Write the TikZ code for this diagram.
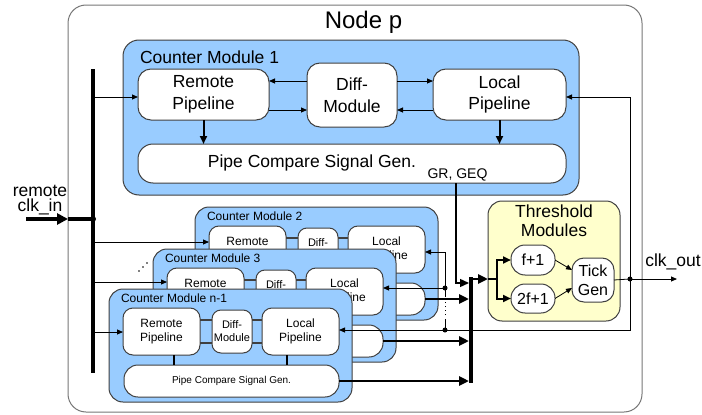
\documentclass[tikz,border=0pt]{standalone}
\usepackage{fontspec}
\setmainfont{Liberation Sans}
\usetikzlibrary{arrows.meta}
\definecolor{cmblue}{HTML}{99CCFF}
\definecolor{thyellow}{HTML}{FFFFCC}
\definecolor{edgec}{HTML}{404040}
\definecolor{outerc}{HTML}{777777}
\tikzset{
  every node/.style={inner sep=0pt, outer sep=0pt},
  outerbox/.style={draw=outerc, line width=1pt, fill=white, rounded corners=18pt},
  modbox/.style={draw=edgec, line width=1pt, fill=cmblue, rounded corners=14pt},
  pbox/.style={draw=edgec, line width=1pt, fill=white, rounded corners=13pt, align=center, font=\fontsize{17.5}{21.5}\selectfont},
  spbox/.style={draw=edgec, line width=1pt, fill=white, rounded corners=10pt, align=center, font=\fontsize{12}{14}\selectfont},
  thbox/.style={draw=edgec, line width=1pt, fill=thyellow, rounded corners=14pt},
  tbox/.style={draw=edgec, line width=1pt, fill=white, align=center, font=\fontsize{16}{19}\selectfont},
  bigtext/.style={font=\fontsize{17.5}{21}\selectfont, align=center},
  tarrow/.style={line width=0.8pt, -{Triangle[length=6pt,width=5pt]}},
  tline/.style={line width=0.8pt},
  marrow/.style={line width=1.4pt, -{Triangle[length=9pt,width=8pt]}},
  karrow/.style={line width=2.5pt, -{Triangle[length=10pt,width=9pt]}},
  karrowb/.style={line width=2pt, -{Triangle[length=8pt,width=7pt]}},
  kline/.style={line width=2.5pt},
  busline/.style={line width=4pt},
  sbar/.style={line width=1.2pt, draw=edgec},
  vbar/.style={line width=2pt},
  jdot/.style={circle, fill=black, minimum size=5pt},
  smallcm/.pic={
    \node[modbox, minimum width=243pt, minimum height=113pt] (-box) at (121.5,56.5) {};
    \node[font=\fontsize{12}{14}\selectfont, anchor=west] (-title) at (12,9.5) {#1};
    \node[spbox, minimum width=77pt, minimum height=47pt] (-remote) at (52.5,42.5) {Remote\\Pipeline};
    \node[spbox, rounded corners=9pt, minimum width=40pt, minimum height=43pt, font=\fontsize{11}{13}\selectfont] (-diff) at (123,42.5) {Diff-\\Module};
    \node[spbox, minimum width=77pt, minimum height=47pt] (-local) at (191.5,42.5) {Local\\Pipeline};
    \node[spbox, rounded corners=14pt, minimum width=215pt, minimum height=32pt, font=\fontsize{10}{12}\selectfont] (-pcs) at (122.5,92) {Pipe Compare Signal Gen.};
    \draw[sbar] (-remote.east |- 0,31) -- (-diff.west |- 0,31);
    \draw[sbar] (-remote.east |- 0,54) -- (-diff.west |- 0,54);
    \draw[sbar] (-diff.east |- 0,31) -- (-local.west |- 0,31);
    \draw[sbar] (-diff.east |- 0,54) -- (-local.west |- 0,54);
    \draw[vbar] (-remote.south -| 65,0) -- (-pcs.north -| 65,0);
    \draw[vbar] (-local.south -| 178,0) -- (-pcs.north -| 178,0);
  },
}
\begin{document}
\begin{tikzpicture}[x=1pt,y=-1pt]
\useasboundingbox (0,0) rectangle (702,415);
% outer node
\node[outerbox, minimum width=574pt, minimum height=407pt] (nodep) at (355,208.5) {};
\node[font=\fontsize{24}{28}\selectfont] (nodeptitle) at (363.5,22) {Node p};

% Counter module 1
\node[modbox, rounded corners=16pt, minimum width=456pt, minimum height=155pt] (cm1) at (351,117.5) {};
\node[bigtext, anchor=west] (cm1title) at (140,57) {Counter Module 1};
\node[pbox, minimum width=131pt, minimum height=51pt] (remote1) at (203.5,94.5) {Remote\\Pipeline};
\node[pbox, minimum width=90pt, minimum height=64pt] (diff1) at (352,95) {Diff-\\Module};
\node[pbox, minimum width=133pt, minimum height=51pt] (local1) at (499.5,94.5) {Local\\Pipeline};
\node[pbox, rounded corners=15pt, minimum width=428pt, minimum height=39pt] (pcs1) at (352,163.5) {};
\node[bigtext] (pcs1text) at (312,163) {Pipe Compare Signal Gen.};
\node[font=\fontsize{14}{16}\selectfont] (grgeq) at (457.5,175) {GR, GEQ};

\draw[tarrow] (diff1.west |- 0,81) -- (remote1.east |- 0,81);
\draw[tarrow] (remote1.east |- 0,110) -- (diff1.west |- 0,110);
\draw[tarrow] (diff1.east |- 0,81) -- (local1.west |- 0,81);
\draw[tarrow] (local1.west |- 0,110) -- (diff1.east |- 0,110);
\draw[karrowb] (remote1.south) -- (remote1.south |- pcs1.north);
\draw[karrowb] (local1.south) -- (local1.south |- pcs1.north);

% stacked counter modules
\pic (cm2) at (195,207) {smallcm=Counter Module 2};
\pic (cm3) at (153,249) {smallcm=Counter Module 3};
\pic (cmn) at (109,289) {smallcm=Counter Module n-1};

% threshold modules
\node[thbox, minimum width=132pt, minimum height=120pt] (thresh) at (554,261) {};
\node[font=\fontsize{17.5}{19}\selectfont, align=center] (threshtitle) at (554,221) {Threshold\\Modules};
\node[tbox, rounded corners=14pt, minimum width=44pt, minimum height=30pt] (fone) at (533,260) {f+1};
\node[tbox, rounded corners=14pt, minimum width=44pt, minimum height=29pt] (ftwo) at (533,298.5) {2f+1};
\node[tbox, rounded corners=12pt, minimum width=42pt, minimum height=44pt] (tick) at (593,280) {Tick\\Gen};

% left bus
\coordinate (lbtop) at (93,69);
\coordinate (lbbot) at (93,373);
\coordinate (clkin) at (26,219);
\coordinate (lbjoin) at (93,219);
\draw[busline] (lbtop) -- (lbbot);
\draw[line width=4pt, -{Triangle[length=11pt,width=11pt]}] (clkin) -- (nodep.west |- clkin);
\draw[busline] (nodep.west |- clkin) -- (lbjoin);
\node[jdot, minimum size=6pt] (lbdot) at (lbjoin) {};
\node[font=\fontsize{17.5}{15}\selectfont, align=center] (clkinlabel) at (40,200) {remote\\clk\_in};

\draw[tarrow] (lbtop |- 0,97) -- (remote1.west |- 0,97);
\draw[tarrow] (lbtop |- 0,242) -- (cm2-remote.west |- 0,242);
\draw[tarrow] (lbtop |- 0,282) -- (cm3-remote.west |- 0,282);
\draw[tarrow] (lbtop |- 0,332) -- (cmn-remote.west |- 0,332);

% continuation dots
\fill (139,271) circle (0.9pt) (143,267) circle (0.9pt) (147,263) circle (0.9pt);

% right bus
\coordinate (rbtop) at (471,277);
\coordinate (rbbot) at (471,383);
\coordinate (rbin) at (469,0);
\coordinate (rbout) at (471,279);
\draw[busline] (rbtop) -- (rbbot);
\coordinate (grcorner) at (456,283);
\draw[marrow] (pcs1.south -| grcorner) -- (grcorner) -- (grcorner -| rbin);
\draw[karrow] (cm2-pcs.east) -- (cm2-pcs.east -| rbin);
\draw[karrow] (cm3-pcs.east) -- (cm3-pcs.east -| rbin);
\draw[karrow] (cmn-pcs.east) -- (cmn-pcs.east -| rbin);
\draw[karrow] (rbout) -- (thresh.west |- rbout);

% inside threshold
\coordinate (thsplit) at (497,279);
\draw[kline] (thresh.west |- thsplit) -- (thsplit);
\draw[karrowb] (thsplit) |- (fone.west);
\draw[karrowb] (thsplit) |- (ftwo.west);
\draw[tarrow] (fone.east) -- (tick.west |- 0,270);
\draw[tarrow] (ftwo.east) -- (tick.west |- 0,288);

% output
\coordinate (outj) at (630,279);
\coordinate (clkoutend) at (677,279);
\draw[tline] (tick.east) -- (outj);
\draw[tarrow] (outj) -- (clkoutend);
\node[jdot] (outdot) at (outj) {};
\node[bigtext] (clkoutlabel) at (673,262) {clk\_out};

% feedback
\coordinate (fbtop) at (630,97);
\coordinate (fbbot) at (630,330);
\coordinate (fbn) at (445,330);
\coordinate (fb3) at (445,288);
\coordinate (fb2) at (445,252);
\draw[tarrow] (outj) -- (fbtop) -- (local1.east |- fbtop);
\draw[tarrow] (outj) -- (fbbot) -- (cmn-local.east |- fbbot);
\draw[tline] (fbn) -- (445,319);
\draw[line width=1pt, dash pattern=on 1pt off 3pt] (445,315) -- (445,300);
\draw[tline] (445,297) -- (fb3);
\draw[tarrow] (fb3) -- (cm3-local.east |- fb3);
\draw[tarrow] (fb3) -- (fb2) -- (cm2-local.east |- fb2);
\node[jdot] (fbndot) at (fbn) {};
\node[jdot] (fb3dot) at (fb3) {};
\end{tikzpicture}
\end{document}
